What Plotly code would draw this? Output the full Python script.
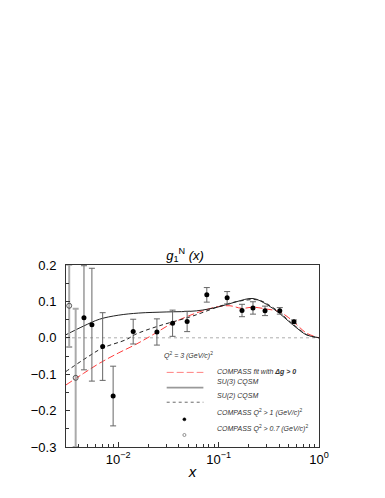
import plotly.graph_objects as go

# COMPASS data, Q^2 > 1 (GeV/c)^2
data_x = [0.00456, 0.00547, 0.0070, 0.0089, 0.0141, 0.0243, 0.0348, 0.0486,
          0.0763, 0.1216, 0.171, 0.220, 0.290, 0.407, 0.563]
data_y = [0.055, 0.036, -0.024, -0.160, 0.017, 0.016, 0.040, 0.045,
          0.118, 0.110, 0.075, 0.082, 0.074, 0.074, 0.044]
data_err = [0.143, 0.155, 0.093, 0.082, 0.034, 0.036, 0.036, 0.028,
            0.020, 0.017, 0.017, 0.017, 0.013, 0.009, 0.005]

# COMPASS data, Q^2 > 0.7 (GeV/c)^2
low_x = [0.00325, 0.00377]
low_y = [0.088, -0.110]
low_err = [0.113, 0.19]

# curves
fit_x = [0.0030, 0.0045, 0.0065, 0.0100, 0.0150, 0.0220, 0.0340, 0.0500,
         0.0750, 0.1000, 0.1300, 0.1700, 0.2200, 0.3000, 0.4000, 0.5000,
         0.6000, 0.7500, 1.0]
fit_y = [-0.130, -0.098, -0.070, -0.042, -0.018, 0.008, 0.039, 0.060,
         0.077, 0.086, 0.088, 0.081, 0.084, 0.079, 0.072, 0.055,
         0.036, 0.013, 0.0]

su3_x = [0.0030, 0.0045, 0.0065, 0.0100, 0.0160, 0.0300, 0.0600, 0.1000,
         0.1500, 0.2200, 0.3000, 0.4000, 0.5000, 0.6000, 0.7500, 1.0]
su3_y = [0.008, 0.032, 0.051, 0.062, 0.068, 0.071, 0.074, 0.085,
         0.099, 0.108, 0.092, 0.068, 0.045, 0.027, 0.008, 0.0]

su2_x = [0.0030, 0.0050, 0.0070, 0.0120, 0.0150, 0.0250, 0.0540, 0.1150,
         0.1800, 0.2500, 0.3000, 0.4000, 0.5000, 0.6000, 0.7500, 1.0]
su2_y = [-0.093, -0.052, -0.028, -0.005, 0.010, 0.032, 0.059, 0.091,
         0.103, 0.104, 0.094, 0.071, 0.047, 0.029, 0.009, 0.0]

# axis ticks
x_tickvals = [0.01, 0.1, 1]
x_ticktext = ["10<sup>\u22122</sup>", "10<sup>\u22121</sup>", "10<sup>0</sup>"]
x_minorvals = [0.004, 0.005, 0.006, 0.007, 0.008, 0.009,
               0.02, 0.03, 0.04, 0.05, 0.06, 0.07, 0.08, 0.09,
               0.2, 0.3, 0.4, 0.5, 0.6, 0.7, 0.8, 0.9]

# legend entries
legend_title = "<i>Q</i><sup>2</sup><i> = 3 (GeV/c)</i><sup>2</sup>"
legend_labels = [
    "<i>COMPASS fit with </i><b><i>\u0394g > 0</i></b>",
    "<i>SU(3) CQSM</i>",
    "<i>SU(2) CQSM</i>",
    "<i>COMPASS Q</i><sup>2</sup><i> > 1 (GeV/c)</i><sup>2</sup>",
    "<i>COMPASS Q</i><sup>2</sup><i> > 0.7 (GeV/c)</i><sup>2</sup>",
]

FONT = "Liberation Sans, Arial, Helvetica, sans-serif"
RED = "#ff3b3b"

fig = go.Figure()

fig.add_scatter(x=fit_x, y=fit_y, mode="lines", line_shape="spline",
                line=dict(color=RED, width=1, dash="7px,3px"),
                hoverinfo="skip")
fig.add_scatter(x=su3_x, y=su3_y, mode="lines", line_shape="spline",
                line=dict(color="#222222", width=1), hoverinfo="skip")
fig.add_scatter(x=su2_x, y=su2_y, mode="lines", line_shape="spline",
                line=dict(color="#222222", width=1, dash="4px,3px"),
                hoverinfo="skip")

# open points with wide error bars
fig.add_scatter(x=low_x, y=low_y, mode="markers",
                marker=dict(symbol="circle-open", size=5, color="#333333",
                            line=dict(width=0.8)),
                error_y=dict(type="data", array=low_err, color="#aaaaaa",
                             thickness=2, width=3))
# filled points
fig.add_scatter(x=data_x, y=data_y, mode="markers",
                marker=dict(symbol="circle", size=5, color="black"),
                error_y=dict(type="data", array=data_err, color="#666666",
                             thickness=1, width=3))

# dotted zero line
fig.add_shape(type="line", xref="paper", x0=0, x1=1, yref="y", y0=0, y1=0,
              line=dict(color="#999999", width=0.8, dash="dot"), layer="below")

# legend drawn by hand inside the frame
lx0, lx1, ltext = 0.398, 0.543, 0.589
ly = [0.410, 0.326, 0.246, 0.152, 0.066]
fig.add_annotation(xref="paper", yref="paper", x=0.378, y=0.505,
                   text=legend_title, showarrow=False, xanchor="left",
                   font=dict(family=FONT, size=7, color="#333333"))
sample_styles = [
    dict(color="#ff8080", width=1, dash="7px,3px"),
    dict(color="#999999", width=1.6),
    dict(color="#444444", width=0.8, dash="3px,3px"),
]
for i, style in enumerate(sample_styles):
    fig.add_shape(type="line", xref="paper", yref="paper",
                  x0=lx0, x1=lx1, y0=ly[i], y1=ly[i], line=style)
dx, dr = 0.468, 0.006
fig.add_shape(type="circle", xref="paper", yref="paper",
              x0=dx - dr, x1=dx + dr, y0=ly[3] - dr * 253 / 182,
              y1=ly[3] + dr * 253 / 182,
              fillcolor="black", line=dict(color="black", width=0.5))
fig.add_shape(type="circle", xref="paper", yref="paper",
              x0=dx - dr, x1=dx + dr, y0=ly[4] - dr * 253 / 182,
              y1=ly[4] + dr * 253 / 182,
              fillcolor="white", line=dict(color="#777777", width=0.8))
for i, label in enumerate(legend_labels):
    fig.add_annotation(xref="paper", yref="paper", x=ltext, y=ly[i],
                       text=label, showarrow=False, xanchor="left",
                       font=dict(family=FONT, size=7, color="#333333"))

# the page puts the figure 8px in from the top-left corner
fig.update_layout(
    width=385,
    height=498,
    margin=dict(l=58, r=74, t=257, b=59),
    paper_bgcolor="white",
    plot_bgcolor="white",
    showlegend=False,
    font=dict(family=FONT, size=13, color="black"),
    title=dict(text="<i>g</i><sub>1</sub><sup>N</sup><i> (x)</i>",
               x=(185 - 8) / 385, xanchor="center", y=1 - 247 / 498,
               yanchor="middle", font=dict(size=13)),
)
fig.update_xaxes(
    type="log",
    range=[-2.52, 0],
    tickmode="array",
    tickvals=x_tickvals,
    ticktext=x_ticktext,
    ticks="inside",
    ticklen=5,
    tickcolor="#333333",
    showgrid=False,
    zeroline=False,
    showline=True,
    linecolor="#333333",
    linewidth=1,
    mirror=True,
    minor=dict(tickmode="array", tickvals=x_minorvals, ticks="inside",
               ticklen=3, tickcolor="#333333", showgrid=False),
    title=dict(text="<i>x</i>", font=dict(size=15), standoff=0),
)
fig.update_yaxes(
    range=[-0.3, 0.2],
    dtick=0.1,
    tick0=0,
    tickformat=".1f",
    ticks="inside",
    ticklen=4,
    tickcolor="#333333",
    ticklabelstandoff=6,
    showgrid=False,
    zeroline=False,
    showline=True,
    linecolor="#333333",
    linewidth=1,
    mirror=True,
    minor=dict(dtick=0.05, ticks="inside", ticklen=3, tickcolor="#333333",
               showgrid=False),
)

fig.write_html("out.html")
